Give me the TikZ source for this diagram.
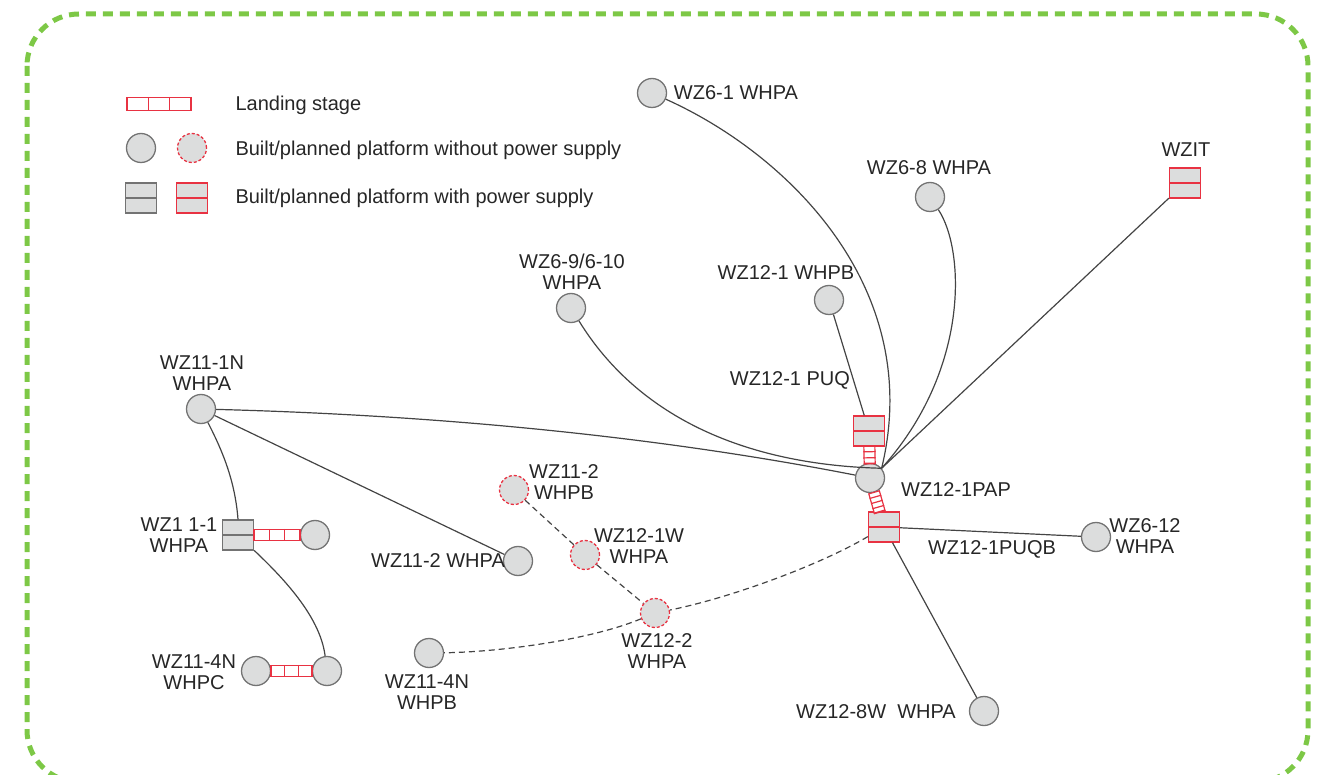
\documentclass[tikz,border=0pt]{standalone}
\usepackage{fontspec}
\setmainfont{Liberation Sans}
\usepackage{tikz}
\usetikzlibrary{calc}
\definecolor{redline}{RGB}{232,50,66}
\definecolor{platgray}{RGB}{220,221,221}
\definecolor{edgegray}{RGB}{68,68,68}
\definecolor{framegreen}{RGB}{125,200,70}
\tikzstyle{platform}=[circle,draw=black!55,fill=platgray,line width=1.3pt,minimum size=29pt,inner sep=0pt]
\tikzstyle{planned}=[platform,draw=redline,dash pattern=on 3pt off 2pt]
\tikzstyle{power}=[rectangle,draw=black!55,fill=platgray,line width=1.3pt,minimum width=31pt,minimum height=30pt,inner sep=0pt,
  path picture={\draw[black!55,line width=1.3pt] (path picture bounding box.west) -- (path picture bounding box.east);}]
\tikzstyle{powerred}=[power,draw=redline,
  path picture={\draw[redline,line width=1.3pt] (path picture bounding box.west) -- (path picture bounding box.east);}]
\tikzset{stage/.style={rectangle,draw=redline,fill=white,line width=1.2pt,inner sep=0pt,minimum width=#1,minimum height=11pt}}
\tikzstyle{rung}=[draw=redline,line width=1.2pt]
\tikzstyle{edge}=[draw=edgegray,line width=1.2pt]
\tikzstyle{plan}=[edge,dash pattern=on 6pt off 4pt]
\tikzstyle{tag}=[font=\fontsize{20}{21}\selectfont,align=center,text=black!85]
\tikzstyle{frame}=[draw=framegreen,line width=5pt,dash pattern=on 10pt off 7pt,rounded corners=52pt]

\begin{document}
\begin{tikzpicture}[x=1pt,y=-1pt]
    \useasboundingbox (0,0) rectangle (1328,775);
    \clip (0,0) rectangle (1328,775);
    \path[frame] (27,14) rectangle (1308,782);
    % platforms
    \foreach \pos/\name in {{(652,93)/wz61}, {(930,197)/wz68}, {(571,308)/wz69},
    {(829,300)/wz121b}, {(870,478)/pap}, {(1096,537)/wz612}, {(984,711)/wz128w},
    {(201,409)/wz111n}, {(315,535)/wz111b}, {(256,671)/wz114c}, {(327,671)/wz114d},
    {(518,561)/wz112a}, {(429,653)/wz114b}}
        \node[platform] (\name) at \pos {};
    \foreach \pos/\name in {{(514,490)/wz112b}, {(585,555)/wz121w}, {(655,613)/wz122}}
        \node[planned] (\name) at \pos {};
    \node[power] (wz111) at (238,535) {};
    \foreach \pos/\name in {{(1185,183)/wzit}, {(869,431)/puq}, {(884,527)/puqb}}
        \node[powerred] (\name) at \pos {};
    % landing stages
    \path (puq) -- node[stage=17pt,sloped] (st1) {} (pap);
    \path (pap) -- node[stage=20pt,sloped] (st2) {} (puqb);
    \path (wz111) -- node[stage=46pt] (st3) {} (wz111b);
    \path (wz114c) -- node[stage=41pt] (st4) {} (wz114d);
    \node[stage=64pt,minimum height=13pt] (lgstage) at (159,104) {};
    \foreach \st/\n in {st1/3, st2/4, st3/3, st4/3, lgstage/3}
        \foreach \k in {1,...,\n}
            \path[rung] ($(\st.north west)!{\k/\n}!(\st.north east)$) -- ($(\st.south west)!{\k/\n}!(\st.south east)$);
    % labels
    \foreach \pos/\name/\val in {{(736,93)/lwz61/WZ6-1 WHPA}, {(929,168)/lwz68/WZ6-8 WHPA},
    {(1186,150)/lwzit/WZIT}, {(786,273)/lwz121b/WZ12-1 WHPB}, {(790,380)/lpuq/WZ12-1 PUQ},
    {(956,490)/lpap/WZ12-1PAP}, {(992,549)/lpuqb/WZ12-1PUQB}, {(1145,536)/lwz612/WZ6-12\\WHPA},
    {(876,712)/lwz128w/WZ12-8W\ \ WHPA}, {(202,373)/lwz111n/WZ11-1N\\WHPA},
    {(179,535)/lwz111/WZ1 1-1\\WHPA}, {(194,672)/lwz114c/WZ11-4N\\WHPC},
    {(438,561)/lwz112a/WZ11-2 WHPA}, {(564,482)/lwz112b/WZ11-2\\WHPB},
    {(639,546)/lwz121w/WZ12-1W\\WHPA}, {(657,651)/lwz122/WZ12-2\\WHPA},
    {(427,692)/lwz114b/WZ11-4N\\WHPB}}
        \node[tag] (\name) at \pos {\val};
    \node[tag] (lwz69) at (572,272) {WZ6-9/6-10\\WHPA};
    % straight links
    \foreach \source/\dest in {wzit/pap.40, wz121b/puq, wz111n/wz112a, puqb/wz612, puqb/wz128w}
        \path[edge] (\source) -- (\dest);
    \foreach \source/\dest in {wz112b/wz121w, wz121w/wz122}
        \path[plan] (\source) -- (\dest);
    % curved links
    \path[edge] (wz61) .. controls (790,155) and (925,290) .. (pap.40);
    \path[edge] (wz68) .. controls (965,250) and (970,370) .. (pap.40);
    \path[edge] (wz69) .. controls (640,420) and (750,465) .. (pap.40);
    \path[edge] (wz111n) .. controls (430,415) and (650,435) .. (pap);
    \path[edge] (wz111n) .. controls (222,450) and (235,480) .. (wz111.north);
    \path[edge] (wz111) .. controls (280,575) and (320,615) .. (wz114d);
    \path[plan] (puqb) .. controls (820,565) and (730,598) .. (wz122);
    \path[plan] (wz122) .. controls (590,640) and (500,652) .. (wz114b);
    % legend
    \node[platform] (lgbuilt) at (141,148) {};
    \node[planned] (lgplanned) at (192,148) {};
    \node[power] (lgpower) at (141,198) {};
    \node[powerred] (lgpowerred) at (192,198) {};
    \node[tag,anchor=west] (lgt1) at (232,105) {Landing stage};
    \node[tag,anchor=west] (lgt2) at (232,150) {Built/planned platform without power supply};
    \node[tag,anchor=west] (lgt3) at (232,198) {Built/planned platform with power supply};
\end{tikzpicture}
\end{document}
